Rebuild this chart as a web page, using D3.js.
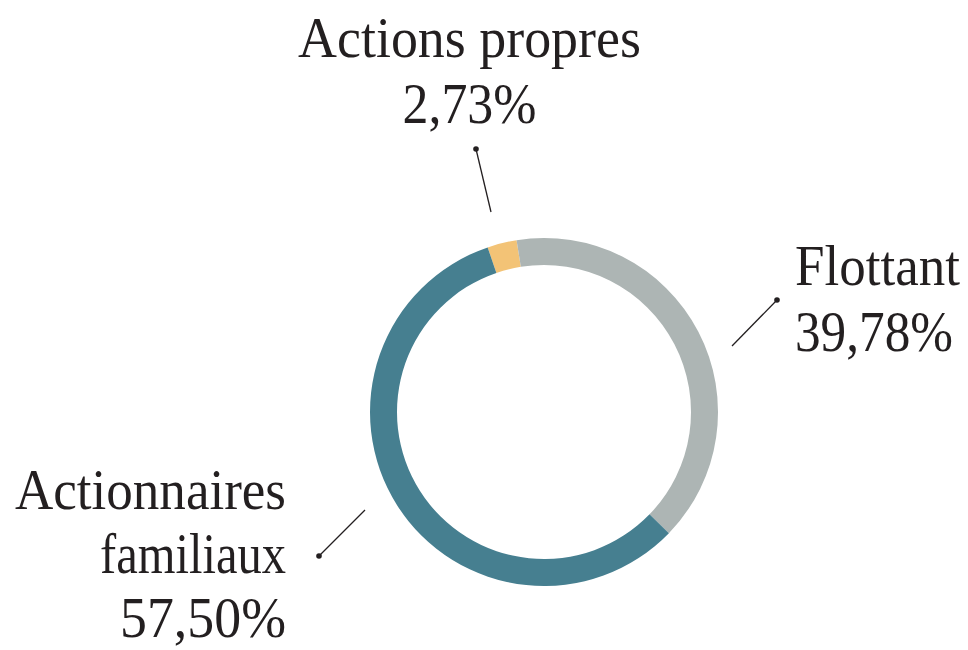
<!DOCTYPE html>
<html>
<head>
<meta charset="utf-8">
<script src="https://cdn.jsdelivr.net/npm/d3@7"></script>
<style>
  html, body { margin: 0; padding: 0; background: #ffffff; overflow: hidden; }
  svg { display: block; }
  text { font-family: "Liberation Serif", "DejaVu Serif", serif; fill: #231f20; }
</style>
</head>
<body>
<svg id="chart" width="968" height="650"></svg>
<script>
// ---- Data ----
const categories = ["Actions propres", "Flottant", "Actionnaires familiaux"];
const values = [2.73, 39.78, 57.50];
const valueLabels = ["2,73%", "39,78%", "57,50%"];
const labelLines = [["Actions propres"], ["Flottant"], ["Actionnaires", "familiaux"]];
const colors = ["#f3c376", "#adb5b4", "#467f90"];

// ---- Layout (positions / sizes) ----
const cx = 544, cy = 412;
const outerR = 174, innerR = 147;
const startDeg = -18.9;
const fontSize = 57;
const labelLayout = [
  { x: 469.5, y: 56.5, lineH: 66, anchor: "middle", widths: [343, 134],
    leader: [[476, 149], [491, 212]] },
  { x: 795, y: 285, lineH: 66, anchor: "start", widths: [165, 158],
    leader: [[777, 300], [732, 346]] },
  { x: 286, y: 509, lineH: 64, anchor: "end", widths: [271, 186, 166],
    leader: [[319, 556], [365, 510]] }
];

const svg = d3.select("#chart");

const pie = d3.pie()
  .sort(null)
  .value(d => d)
  .startAngle(startDeg * Math.PI / 180)
  .endAngle(startDeg * Math.PI / 180 + 2 * Math.PI);

const arc = d3.arc().innerRadius(innerR).outerRadius(outerR);

const g = svg.append("g").attr("transform", `translate(${cx},${cy})`);
g.selectAll("path")
  .data(pie(values))
  .join("path")
  .attr("d", arc)
  .attr("fill", (d, i) => colors[i]);

// ---- Labels ----
categories.forEach((cat, i) => {
  const L = labelLayout[i];
  const lines = labelLines[i].concat([valueLabels[i]]);
  lines.forEach((ln, j) => {
    const t = svg.append("text")
      .attr("text-anchor", L.anchor)
      .attr("font-size", fontSize)
      .text(ln);
    const natural = t.node().getComputedTextLength();
    const sx = L.widths[j] / natural;
    t.attr("transform", `translate(${L.x},${L.y + j * L.lineH}) scale(${sx},1)`);
  });
  // leader line
  svg.append("line")
    .attr("x1", L.leader[0][0]).attr("y1", L.leader[0][1])
    .attr("x2", L.leader[1][0]).attr("y2", L.leader[1][1])
    .attr("stroke", "#231f20").attr("stroke-width", 1.3);
  svg.append("circle")
    .attr("cx", L.leader[0][0]).attr("cy", L.leader[0][1])
    .attr("r", 2.8).attr("fill", "#231f20");
});
</script>
</body>
</html>
